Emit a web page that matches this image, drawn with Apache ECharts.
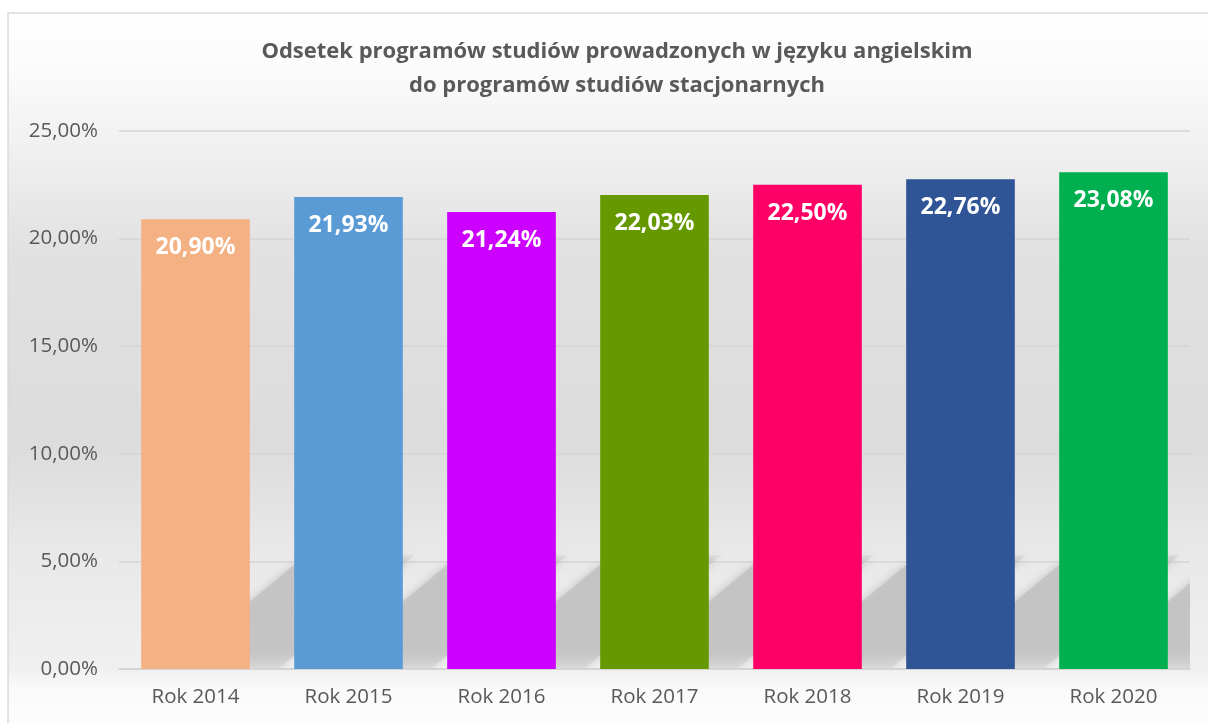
<!DOCTYPE html>
<html>
<head>
<meta charset="utf-8">
<script src="https://cdn.jsdelivr.net/npm/echarts@6/dist/echarts.min.js"></script>
<style>
  html, body { margin: 0; padding: 0; background: #fff; }
  #chart { width: 1208px; height: 723px; }
</style>
</head>
<body>
<div id="chart"></div>
<script>
const categories = ['Rok 2014', 'Rok 2015', 'Rok 2016', 'Rok 2017', 'Rok 2018', 'Rok 2019', 'Rok 2020'];
const shares = [20.90, 21.93, 21.24, 22.03, 22.50, 22.76, 23.08];
const barColors = ['#F4B183', '#5B9BD5', '#CC00FF', '#669900', '#FF0066', '#2F5597', '#00B050'];
const titleLines = ['Odsetek programów studiów prowadzonych w języku angielskim', 'do programów studiów stacjonarnych'];

const FONT = '"Open Sans", "Noto Sans", sans-serif';
const fmt = v => v.toFixed(2).replace('.', ',') + '%';

const chart = echarts.init(document.getElementById('chart'));

// soft perspective shadow behind each bar (Excel style)
function renderShadow(params, api) {
  const base = api.coord([api.value(0), 0]);
  const band = api.size([1, 0])[0];
  const w = band * 0.71;
  const xl = base[0] - w / 2 + 28;
  const xr = base[0] + w / 2 + 28;
  const y0 = base[1];
  const h = 114, k = 1.2;
  return {
    type: 'polygon',
    shape: { points: [[xl, y0], [xr, y0], [xr + h * k, y0 - h], [xl + h * k, y0 - h]] },
    style: {
      fill: new echarts.graphic.LinearGradient(0, 0, 0, 1, [
        { offset: 0, color: 'rgba(190,190,190,0.2)' },
        { offset: 0.12, color: 'rgba(195,195,195,0.9)' },
        { offset: 0.85, color: 'rgba(197,197,197,1)' },
        { offset: 1, color: 'rgba(215,215,215,0.6)' }
      ]),
      shadowBlur: 10,
      shadowColor: 'rgba(180,180,180,0.8)'
    },
    silent: true
  };
}

chart.setOption({
  animation: false,
  graphic: [{
    type: 'rect',
    z: -10,
    shape: { x: 8, y: 13, width: 1215, height: 720 },
    style: {
      stroke: '#d9d9d9',
      lineWidth: 1.5,
      fill: new echarts.graphic.LinearGradient(0, 0, 0, 1, [
        { offset: 0, color: '#ffffff' },
        { offset: 0.08, color: '#fbfbfb' },
        { offset: 0.2, color: '#efefef' },
        { offset: 0.33, color: '#e1e1e1' },
        { offset: 0.6, color: '#dcdcdc' },
        { offset: 0.74, color: '#e8e8e8' },
        { offset: 0.91, color: '#f0f0f0' },
        { offset: 0.94, color: '#fafafa' },
        { offset: 1, color: '#fdfdfd' }
      ])
    },
    silent: true
  }],
  title: {
    text: titleLines.join('\n'),
    left: 612,
    textAlign: 'center',
    top: 30,
    textStyle: { fontFamily: FONT, fontSize: 22, fontWeight: 'bold', color: '#595959', lineHeight: 34 }
  },
  grid: { left: 119, right: 18, top: 131, bottom: 54, containLabel: false },
  xAxis: {
    type: 'category',
    data: categories,
    axisLine: { show: true, lineStyle: { color: '#d4d4d4', width: 1.5 } },
    axisTick: { show: false },
    axisLabel: { fontFamily: FONT, fontSize: 20.5, color: '#595959', margin: 18 }
  },
  yAxis: {
    type: 'value',
    min: 0,
    max: 25,
    interval: 5,
    axisLine: { show: false },
    axisTick: { show: false },
    splitLine: { lineStyle: { color: '#d4d4d4', width: 1.5 } },
    axisLabel: { fontFamily: FONT, fontSize: 20.5, color: '#595959', margin: 21, formatter: fmt }
  },
  series: [{
    type: 'custom',
    clip: true,
    z: 1,
    renderItem: renderShadow,
    data: shares.map((v, i) => [i, v])
  }, {
    type: 'bar',
    z: 2,
    barWidth: '71%',
    data: shares.map((v, i) => ({ value: v, itemStyle: { color: barColors[i] } })),
    label: {
      show: true,
      position: 'insideTop',
      distance: 17,
      fontFamily: FONT,
      fontSize: 23,
      fontWeight: 'bold',
      color: '#ffffff',
      formatter: p => fmt(p.value)
    }
  }]
});
</script>
</body>
</html>
